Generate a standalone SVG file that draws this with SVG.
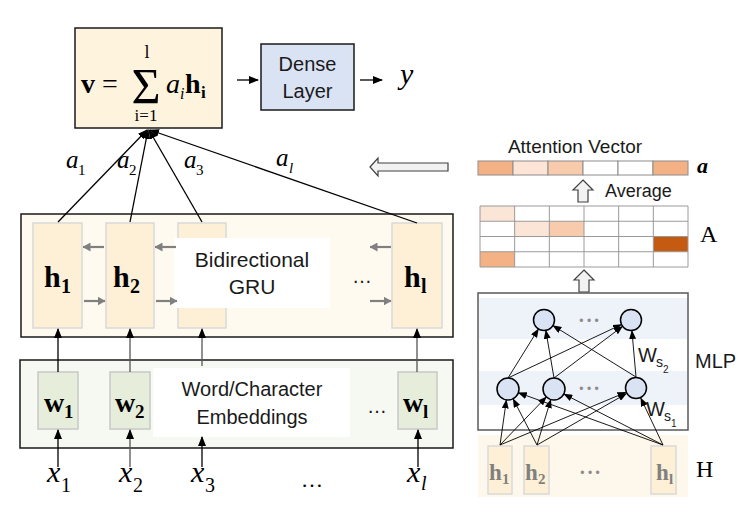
<svg xmlns="http://www.w3.org/2000/svg" width="751" height="532" viewBox="0 0 751 532">
<defs>
<style>
.sans{font-family:"Liberation Sans",Arial,sans-serif;fill:#1a1a1a}
.serif{font-family:"Liberation Serif","DejaVu Serif",serif;fill:#000}
.it{font-style:italic}
.bd{font-weight:bold}
.box{stroke:#1a1a1a;stroke-width:1.5}
.hb{fill:#fdf0d6;stroke:#d9d9d9;stroke-width:1.5}
.wb{fill:#e6eedb;stroke:#c8c8c8;stroke-width:1.5}
.ln{stroke:#000;stroke-width:1.3;fill:none}
.gl{stroke:#555;stroke-width:1.3;fill:none}
.thin{stroke:#000;stroke-width:0.9;fill:none}
.ga{stroke:#808080;stroke-width:2.2;fill:none}
.cell{stroke:#8c8c8c;stroke-width:1}
.hollow{fill:#f2f2f2;stroke:#404040;stroke-width:1.2}
.neuron{fill:#dae3f3;stroke:#000;stroke-width:1.5}
.dots{font-family:"Liberation Sans",Arial,sans-serif;fill:#8c8c8c;font-size:12px}
.grey{fill:#808080}
</style>
<marker id="ah" markerWidth="10" markerHeight="8" refX="9" refY="4" orient="auto" markerUnits="userSpaceOnUse"><path d="M0,0 L10,4 L0,8 z" fill="#000"/></marker>
<marker id="ahs" markerWidth="9" markerHeight="7" refX="8.5" refY="3.5" orient="auto" markerUnits="userSpaceOnUse"><path d="M0,0 L9,3.5 L0,7 z" fill="#000"/></marker>
<marker id="ahg" markerWidth="8" markerHeight="9" refX="7.5" refY="4.5" orient="auto" markerUnits="userSpaceOnUse"><path d="M0,0 L8,4.5 L0,9 z" fill="#808080"/></marker>
</defs>
<rect width="751" height="532" fill="#fff"/>

<!-- Sum node -->
<g id="sum-node">
<rect class="box" x="75" y="28" width="147" height="100" fill="#fef4dd"/>
<text class="serif bd" x="81" y="93" font-size="28">v</text>
<text class="serif" x="102" y="93" font-size="28">=</text>
<text class="serif" x="146" y="103" font-size="50" text-anchor="middle">Σ</text>
<text class="serif" x="147" y="58" font-size="18" text-anchor="middle">l</text>
<text class="serif" x="146" y="121" font-size="17" text-anchor="middle">i=1</text>
<text class="serif it" x="166" y="93" font-size="28">a</text>
<text class="serif it" x="180" y="99" font-size="16">i</text>
<text class="serif bd" x="185" y="93" font-size="28">h</text>
<text class="serif bd" x="201" y="98" font-size="17">i</text>
</g>

<g id="dense">
<rect class="box" x="261" y="44" width="93" height="66" fill="#dae3f3"/>
<text class="sans" x="307.500" y="71" font-size="20" text-anchor="middle">Dense</text>
<text class="sans" x="307.500" y="98" font-size="20" text-anchor="middle">Layer</text>
</g>

<g id="output-y">
<text class="serif it" x="400" y="84" font-size="30">y</text>
</g>

<!-- attention labels -->
<g id="attention-labels">
<text class="serif it" x="66" y="168" font-size="25">a</text><text class="serif" x="78" y="175" font-size="15">1</text>
<text class="serif it" x="117" y="168" font-size="25">a</text><text class="serif" x="129" y="175" font-size="15">2</text>
<text class="serif it" x="184" y="168" font-size="25">a</text><text class="serif" x="196" y="175" font-size="15">3</text>
<text class="serif it" x="276" y="166" font-size="25">a</text><text class="serif it" x="289" y="173" font-size="15">l</text>
</g>

<!-- GRU layer -->
<g id="gru">
<rect class="box" x="21" y="214" width="432" height="123" fill="#fffaef"/>
<rect class="hb" x="33" y="223" width="49" height="105"/>
<rect class="hb" x="106" y="223" width="48" height="105"/>
<rect class="hb" x="178" y="223" width="48" height="105"/>
<rect class="hb" x="392" y="223" width="50" height="105"/>
<rect x="174" y="238" width="156" height="70" fill="#fff"/>
<text class="sans" x="252" y="267" font-size="21" text-anchor="middle">Bidirectional</text>
<text class="sans" x="252" y="294" font-size="21" text-anchor="middle">GRU</text>
<text class="serif bd" x="44" y="287" font-size="30">h</text><text class="serif bd" x="61" y="293" font-size="20">1</text>
<text class="serif bd" x="113" y="287" font-size="30">h</text><text class="serif bd" x="130" y="293" font-size="20">2</text>
<text class="serif bd" x="404" y="287" font-size="30">h</text><text class="serif bd" x="421" y="293" font-size="20">l</text>
<text class="sans" x="362" y="283" font-size="20" text-anchor="middle">…</text>
</g>

<!-- Embedding layer -->
<g id="embeddings">
<rect class="box" x="20" y="360" width="433" height="88" fill="#f6f9f2"/>
<rect class="wb" x="38" y="372" width="40" height="57"/>
<rect class="wb" x="110" y="372" width="40" height="57"/>
<rect class="wb" x="398" y="372" width="39" height="57"/>
<rect x="153" y="368" width="197" height="69" fill="#fff"/>
<text class="sans" x="252" y="396" font-size="20" text-anchor="middle">Word/Character</text>
<text class="sans" x="252" y="424" font-size="20" text-anchor="middle">Embeddings</text>
<text class="serif bd" x="44" y="412" font-size="28">w</text><text class="serif bd" x="64" y="418" font-size="19">1</text>
<text class="serif bd" x="115" y="412" font-size="28">w</text><text class="serif bd" x="135" y="418" font-size="19">2</text>
<text class="serif bd" x="403" y="412" font-size="28">w</text><text class="serif bd" x="423" y="418" font-size="19">l</text>
<text class="sans" x="377" y="413" font-size="20" text-anchor="middle">…</text>
</g>

<!-- inputs -->
<g id="inputs">
<text class="serif it" x="47" y="482" font-size="30">x</text><text class="serif" x="61" y="492" font-size="20">1</text>
<text class="serif it" x="119" y="482" font-size="30">x</text><text class="serif" x="133" y="492" font-size="20">2</text>
<text class="serif it" x="191" y="482" font-size="30">x</text><text class="serif" x="205" y="492" font-size="20">3</text>
<text class="serif" x="312" y="487" font-size="22" text-anchor="middle">…</text>
<text class="serif it" x="407" y="482" font-size="30">x</text><text class="serif it" x="421" y="490" font-size="20">l</text>
</g>

<!-- Attention vector -->
<g id="attention-vector">
<text class="sans" x="575" y="153" font-size="19" text-anchor="middle">Attention Vector</text>
<rect class="cell" x="478" y="161" width="35" height="14" fill="#f4b183"/>
<rect class="cell" x="513" y="161" width="35" height="14" fill="#fce4d6"/>
<rect class="cell" x="548" y="161" width="35" height="14" fill="#f8cbad"/>
<rect class="cell" x="583" y="161" width="35" height="14" fill="#fff"/>
<rect class="cell" x="618" y="161" width="35" height="14" fill="#fff"/>
<rect class="cell" x="653" y="161" width="35" height="14" fill="#f4b183"/>
<text class="serif it bd" x="697" y="173" font-size="22">a</text>
</g>

<g id="average-arrow">
<path class="hollow" d="M583,180 L593,190 L588,190 L588,202 L578,202 L578,190 L573,190 Z"/>
<text class="sans" x="605" y="197" font-size="18">Average</text>
</g>

<!-- Matrix A -->
<g id="matrix-A">
<rect x="480" y="206" width="34.67" height="15.25" fill="#fbe5d6"/>
<rect x="514.67" y="221.25" width="34.67" height="15.25" fill="#fbe5d6"/>
<rect x="549.33" y="221.25" width="34.67" height="15.25" fill="#f8cbad"/>
<rect x="653.33" y="236.5" width="34.67" height="15.25" fill="#c55a11"/>
<rect x="480" y="251.75" width="34.67" height="15.25" fill="#f4b183"/>
<path d="M480,206 H688 V267 H480 Z M480,221.25 H688 M480,236.5 H688 M480,251.75 H688 M514.67,206 V267 M549.33,206 V267 M584,206 V267 M618.67,206 V267 M653.33,206 V267" fill="none" stroke="#9a9a9a" stroke-width="1"/>
<text class="serif" x="700" y="242" font-size="24">A</text>
</g>

<g id="to-matrix-arrow">
<path class="hollow" d="M584,270 L594,280 L589,280 L589,292 L579,292 L579,280 L574,280 Z"/>
</g>

<!-- MLP -->
<g id="mlp">
<rect x="478" y="293" width="210" height="137" fill="#fff" stroke="#595959" stroke-width="1.5"/>
<rect x="479" y="298" width="208" height="41" fill="#eef2f9"/>
<rect x="479" y="371" width="208" height="34" fill="#eef2f9"/>
<text class="sans" x="695" y="368" font-size="20">MLP</text>
<text class="dots" x="589" y="325" text-anchor="middle">• • •</text>
<text class="dots" x="589" y="393" text-anchor="middle">• • •</text>
</g>

<g id="mlp-neurons">
<circle class="neuron" cx="544" cy="320" r="10.5"/>
<circle class="neuron" cx="631" cy="320" r="10.5"/>
<circle class="neuron" cx="508" cy="389" r="11"/>
<circle class="neuron" cx="554" cy="389" r="11"/>
<circle class="neuron" cx="636" cy="388" r="10.5"/>
</g>

<g id="weights">
<text class="sans" x="638" y="362" font-size="20">W</text><text class="sans" x="656" y="367" font-size="14">s</text><text class="sans" x="663" y="373" font-size="10">2</text>
<text class="sans" x="646" y="416" font-size="20">W</text><text class="sans" x="664" y="421" font-size="14">s</text><text class="sans" x="671" y="427" font-size="10">1</text>
</g>

<!-- H -->
<g id="H">
<rect x="478" y="435" width="210" height="62" fill="#fef8ec"/>
<rect class="hb" x="488" y="446" width="24" height="48"/>
<rect class="hb" x="524" y="446" width="25" height="48"/>
<rect class="hb" x="651" y="446" width="25" height="48"/>
<text class="serif bd grey" x="489" y="480" font-size="23">h</text><text class="serif bd grey" x="502" y="484" font-size="15">1</text>
<text class="serif bd grey" x="525" y="480" font-size="23">h</text><text class="serif bd grey" x="538" y="484" font-size="15">2</text>
<text class="serif bd grey" x="656" y="480" font-size="23">h</text><text class="serif bd grey" x="669" y="484" font-size="15">l</text>
<text class="dots" x="590" y="477" text-anchor="middle">• • •</text>
<text class="serif" x="696" y="477" font-size="24">H</text>
</g>

<g id="attention-arrow">
<path class="hollow" d="M370,167 L378,158 L378,163 L448,163 L448,171 L378,171 L378,176 Z"/>
</g>

<!-- connectors -->
<g id="connectors">
<line class="ln" x1="237" y1="80" x2="258" y2="80" marker-end="url(#ah)"/>
<line class="ln" x1="360" y1="80" x2="382" y2="80" marker-end="url(#ah)"/>
<line class="ln" x1="58" y1="222" x2="147" y2="130" marker-end="url(#ah)"/>
<line class="ln" x1="130" y1="222" x2="148" y2="130" marker-end="url(#ah)"/>
<line class="ln" x1="202" y1="222" x2="149" y2="130" marker-end="url(#ah)"/>
<line class="ln" x1="417" y1="223" x2="150" y2="130" marker-end="url(#ah)"/>
<line class="ga" x1="104" y1="247" x2="83" y2="247" marker-end="url(#ahg)"/>
<line class="ga" x1="176" y1="247" x2="155" y2="247" marker-end="url(#ahg)"/>
<line class="ga" x1="391" y1="247" x2="370" y2="247" marker-end="url(#ahg)"/>
<line class="ga" x1="84" y1="301" x2="105" y2="301" marker-end="url(#ahg)"/>
<line class="ga" x1="156" y1="301" x2="177" y2="301" marker-end="url(#ahg)"/>
<line class="ga" x1="370" y1="301" x2="391" y2="301" marker-end="url(#ahg)"/>
<line class="ln" x1="58" y1="372" x2="58" y2="329" marker-end="url(#ah)"/>
<line class="gl" x1="130" y1="372" x2="130" y2="329" marker-end="url(#ah)"/>
<line class="gl" x1="202" y1="366" x2="202" y2="329" marker-end="url(#ah)"/>
<line class="gl" x1="417" y1="372" x2="417" y2="329" marker-end="url(#ah)"/>
<line class="ln" x1="58" y1="467" x2="58" y2="430" marker-end="url(#ah)"/>
<line class="gl" x1="130" y1="467" x2="130" y2="430" marker-end="url(#ah)"/>
<line class="ln" x1="202" y1="467" x2="202" y2="437" marker-end="url(#ah)"/>
<line class="ln" x1="418" y1="467" x2="418" y2="430" marker-end="url(#ah)"/>
<line class="thin" x1="500" y1="445" x2="506.4" y2="399.9" marker-end="url(#ahs)"/>
<line class="thin" x1="500" y1="445" x2="546.4" y2="396.9" marker-end="url(#ahs)"/>
<line class="thin" x1="500" y1="445" x2="625.9" y2="392.3" marker-end="url(#ahs)"/>
<line class="thin" x1="537" y1="445" x2="513.1" y2="398.8" marker-end="url(#ahs)"/>
<line class="thin" x1="537" y1="445" x2="550.8" y2="399.5" marker-end="url(#ahs)"/>
<line class="thin" x1="537" y1="445" x2="626.5" y2="393.5" marker-end="url(#ahs)"/>
<line class="thin" x1="663" y1="445" x2="518.3" y2="392.7" marker-end="url(#ahs)"/>
<line class="thin" x1="663" y1="445" x2="563.8" y2="394.0" marker-end="url(#ahs)"/>
<line class="thin" x1="663" y1="445" x2="640.7" y2="397.9" marker-end="url(#ahs)"/>
<line class="thin" x1="508" y1="378" x2="538.5" y2="328.9" marker-end="url(#ahs)"/>
<line class="thin" x1="508" y1="378" x2="621.5" y2="324.5" marker-end="url(#ahs)"/>
<line class="thin" x1="554" y1="378" x2="545.8" y2="330.3" marker-end="url(#ahs)"/>
<line class="thin" x1="554" y1="378" x2="622.6" y2="326.3" marker-end="url(#ahs)"/>
<line class="thin" x1="636" y1="377" x2="552.9" y2="325.5" marker-end="url(#ahs)"/>
<line class="thin" x1="636" y1="377" x2="631.9" y2="330.5" marker-end="url(#ahs)"/>
</g>
</svg>
